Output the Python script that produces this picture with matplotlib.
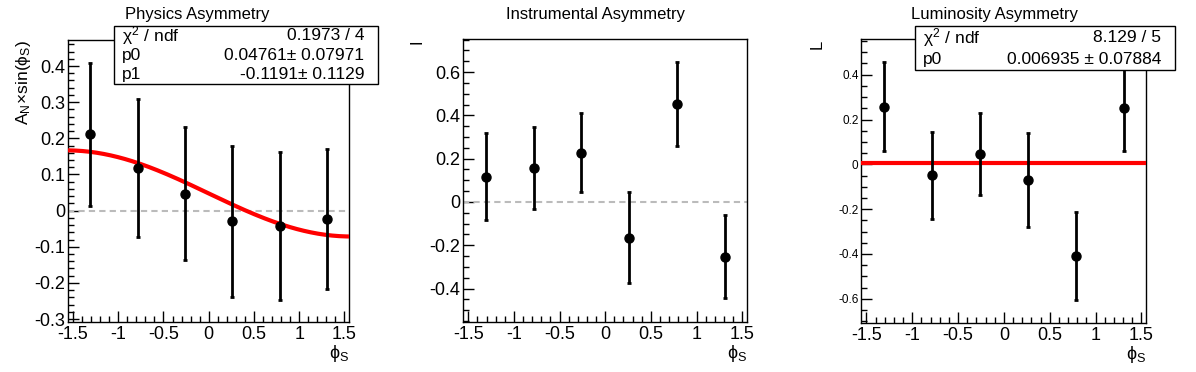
import numpy as np
import matplotlib.pyplot as plt
from matplotlib.patches import Rectangle
from matplotlib.ticker import MultipleLocator

plt.rcParams['font.family'] = ['Liberation Sans', 'DejaVu Sans']
plt.rcParams['mathtext.fontset'] = 'custom'
plt.rcParams['mathtext.rm'] = 'Liberation Sans'
plt.rcParams['mathtext.it'] = 'Liberation Sans'

# ==============================
# DATA
# ==============================
phi_s = [-1.309, -0.785, -0.262, 0.262, 0.785, 1.309]

phys_val = [0.211, 0.118, 0.047, -0.030, -0.042, -0.024]
phys_err = [0.198, 0.191, 0.183, 0.210, 0.204, 0.194]
phys_p0, phys_p1 = 0.04761, -0.1191

inst_val = [0.117, 0.157, 0.227, -0.166, 0.451, -0.252]
inst_err = [0.200, 0.190, 0.183, 0.210, 0.194, 0.192]

lumi_val = [0.258, -0.049, 0.046, -0.070, -0.408, 0.250]
lumi_err = [0.197, 0.193, 0.181, 0.208, 0.196, 0.192]
lumi_p0 = 0.006935

W, H = 1196, 372
fig = plt.figure(figsize=(W / 100, H / 100), dpi=100)


def px_ax(x0, x1, ytop, ybot):
    return fig.add_axes([x0 / W, 1 - ybot / H, (x1 - x0) / W, (ybot - ytop) / H])


def style(ax, ylim, ymaj, ymin, yfs=13):
    ax.set_xlim(-1.555, 1.55)
    ax.set_ylim(*ylim)
    ax.xaxis.set_major_locator(MultipleLocator(0.5))
    ax.xaxis.set_minor_locator(MultipleLocator(0.1))
    ax.yaxis.set_major_locator(MultipleLocator(ymaj))
    ax.yaxis.set_minor_locator(MultipleLocator(ymin))
    ax.tick_params(which='both', direction='in', top=False, right=False, width=1)
    ax.tick_params(which='major', length=8)
    ax.tick_params(which='minor', length=4)
    ax.tick_params(axis='x', labelsize=13, pad=3)
    ax.tick_params(axis='y', labelsize=yfs, pad=2)
    ax.xaxis.set_major_formatter(lambda v, p: f"{v:g}")
    ax.yaxis.set_major_formatter(lambda v, p: f"{v:g}")
    for s in ax.spines.values():
        s.set_linewidth(1)
    ax.set_xlabel(r'$\phi_S$', loc='right', fontsize=13, labelpad=0)


def points(ax, vals, errs):
    ax.errorbar(phi_s, vals, yerr=errs, fmt='o', color='black', ms=6.5,
                elinewidth=2, capsize=1.5, capthick=2, zorder=5)


def statbox(x0, x1, ytop, ybot, rows):
    fig.patches.append(Rectangle((x0 / W, 1 - ybot / H), (x1 - x0) / W, (ybot - ytop) / H,
                                 transform=fig.transFigure, facecolor='white',
                                 edgecolor='black', lw=1, zorder=10))
    n = len(rows)
    h = (ybot - ytop) / n
    for i, (lab, val) in enumerate(rows):
        yc = ytop + h * (i + 0.5)
        fig.text((x0 + 8) / W, 1 - yc / H, lab, fontsize=12.5, va='center', ha='left', zorder=11)
        fig.text((x1 - 14) / W, 1 - yc / H, val, fontsize=12.5, va='center', ha='right', zorder=11)


xfit = np.linspace(-1.55, 1.55, 200)

# ---- Physics asymmetry ----
ax1 = px_ax(68, 349, 40, 322)
style(ax1, (-0.308, 0.472), 0.1, 0.02)
ax1.axhline(0, color='#bbbbbb', ls='--', lw=1.5, dashes=(3, 2))
ax1.plot(xfit, phys_p0 + phys_p1 * np.sin(xfit), color='red', lw=3, zorder=4)
points(ax1, phys_val, phys_err)
ax1.set_ylabel(r'$A_N\!\times\!\sin(\phi_S)$', loc='top', fontsize=12.5, labelpad=1)
fig.text(197 / W, 1 - 14 / H, 'Physics Asymmetry', fontsize=12, ha='center', va='center')
statbox(113.7, 378.3, 26, 84.3, [(r'$\chi^2$ / ndf', '0.1973 / 4'),
                                 ('p0', f'{phys_p0}' + '\u00b1 0.07971'),
                                 ('p1', f'{phys_p1}' + '\u00b1 0.1129')])

# ---- Instrumental asymmetry ----
ax2 = px_ax(463.3, 746.7, 39.3, 322)
style(ax2, (-0.554, 0.751), 0.2, 0.05)
ax2.axhline(0, color='#bbbbbb', ls='--', lw=1.5, dashes=(3, 2))
points(ax2, inst_val, inst_err)
ax2.set_ylabel('I', loc='top', fontsize=12, labelpad=4)
fig.text(596 / W, 1 - 14 / H, 'Instrumental Asymmetry', fontsize=12, ha='center', va='center')

# ---- Luminosity asymmetry ----
ax3 = px_ax(861.3, 1146, 39.3, 322.7)
style(ax3, (-0.707, 0.558), 0.2, 0.05, yfs=8.5)
ax3.plot(xfit, np.full_like(xfit, lumi_p0), color='red', lw=3, zorder=4)
points(ax3, lumi_val, lumi_err)
ax3.set_ylabel('L', loc='top', fontsize=12, labelpad=10)
fig.text(995 / W, 1 - 14 / H, 'Luminosity Asymmetry', fontsize=12, ha='center', va='center')
statbox(915.3, 1175.3, 26, 70.3, [(r'$\chi^2$ / ndf', '8.129 / 5'),
                                  ('p0', f'{lumi_p0} \u00b1 0.07884')])

fig.savefig('out.png', dpi=100)
